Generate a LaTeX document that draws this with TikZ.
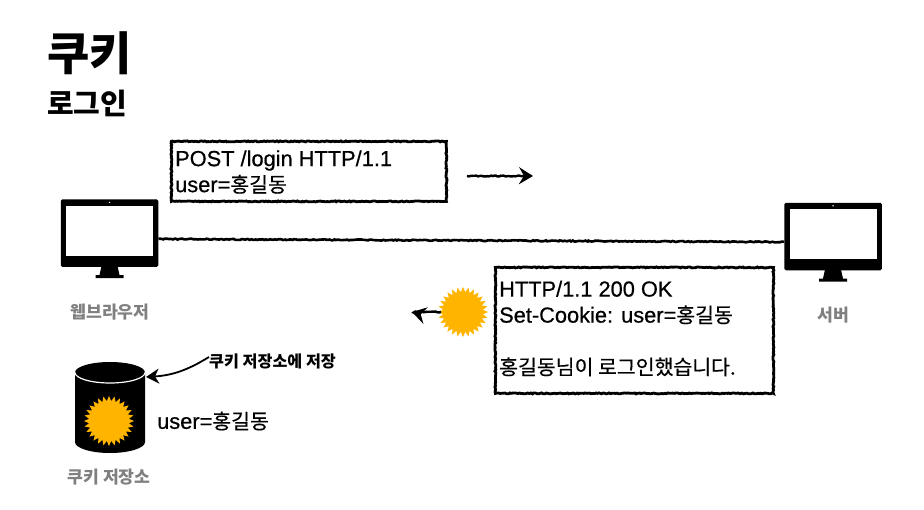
\documentclass[tikz,border=0pt]{standalone}
\usepackage{fontspec}
\setmainfont{Liberation Sans}[FakeBold=0.6]
\newfontfamily\kr{Noto Sans CJK KR}
\newfontfamily\krtext{Noto Sans CJK KR}[Scale=0.94,FakeBold=0.4]
\usetikzlibrary{positioning,arrows.meta,shapes.geometric,decorations.pathmorphing}
\definecolor{cookie}{HTML}{FFB500}
\definecolor{caption}{HTML}{808080}
\tikzset{
    rough/.style={decorate,decoration={random steps,segment length=1.6pt,amplitude=0.5pt}},
    message box/.style={draw,rough,line width=2.8pt,anchor=north west,inner sep=0pt},
    message/.style={align=left,anchor=west,font=\fontsize{21.8}{26}\selectfont,inner sep=0pt},
    sketch arrow/.style={rough,line width=2.4pt,-{Stealth[inset=5pt,length=14pt,width=17pt]}},
    cookie mark/.style={star,star points=28,star point ratio=1.25,fill=cookie,inner sep=0pt,minimum size=50pt},
    caption text/.style={text=caption,font=\kr\bfseries\fontsize{17.2}{20}\selectfont,inner sep=0pt},
    monitor/.pic={
        \node[fill=black,rounded corners=1.5pt,inner sep=0pt,minimum width=97.5pt,minimum height=67.5pt] (-body) at (0,0) {};
        \node[fill=white,inner sep=0pt,minimum width=87pt,minimum height=50pt] (-screen) at (0,-2.5) {};
        \fill[white] (0,-30.7) circle (0.8pt);
        \fill (-8,33) -- (8,33) -- (10,42) -- (14,42) -- (14,45) -- (-14,45) -- (-14,42) -- (-10,42) -- cycle;
    }
}
\begin{document}
\begin{tikzpicture}[x=1pt,y=-1pt]
    \useasboundingbox (0,0) rectangle (924,509);

    % titles
    \node[inner sep=0pt,anchor=west,font=\kr\bfseries\fontsize{46}{50}\selectfont] (title) at (47,53) {쿠키};
    \node[inner sep=0pt,anchor=west,font=\kr\bfseries\fontsize{29}{32}\selectfont] (subtitle) at (47,103) {로그인};

    % client and server
    \pic (browser) at (109.5,233) {monitor};
    \pic (server) at (833,236.5) {monitor};
    \node[caption text] (browser label) at (110,312) {웹브라우저};
    \node[caption text] (server label) at (833,315) {서버};
    \draw[rough,line width=2.6pt] ([yshift=-6pt]browser-body.east) -- ([yshift=-5.5pt]server-body.west);

    % request
    \node[message box,minimum width=275pt,minimum height=60pt] (request box) at (170,140) {};
    \node[message] (request) at (175,172) {POST /login HTTP/1.1\\user={\krtext 홍길동}};
    \coordinate (request start) at (467,176);
    \coordinate (request end) at (533,176);
    \draw[sketch arrow] (request start) -- (request end);

    % response
    \node[message box,minimum width=278pt,minimum height=126pt] (response box) at (494,266) {};
    \node[message] (response) at (499,328.5) {HTTP/1.1 200 OK\\Set-Cookie: user={\krtext 홍길동}\\[26pt]{\krtext 홍길동님이 로그인했습니다.}};
    \node[cookie mark] (sent cookie) at (463,312) {};
    \coordinate (response end) at (412,312);
    \draw[sketch arrow] (sent cookie.center) ++(-22,0) -- (response end);

    % cookie store
    \fill (75,372.5) arc[start angle=180,end angle=360,x radius=35,y radius=10.5]
        -- (145,442) arc[start angle=0,end angle=180,x radius=35,y radius=11] -- cycle;
    \draw[white,line width=1.2pt] (75,372.5) arc[start angle=180,end angle=0,x radius=35,y radius=10.5];
    \node[cookie mark] (stored cookie) at (109,421) {};
    \node[caption text] (store label) at (109,477) {쿠키 저장소};
    \node[inner sep=0pt,anchor=west,font=\fontsize{21.8}{24}\selectfont] (stored value) at (157,421) {user={\krtext 홍길동}};
    \node[inner sep=0pt,anchor=west,font=\kr\bfseries\fontsize{16.2}{18}\selectfont] (store note) at (209,361) {쿠키 저장소에 저장};
    \coordinate (store top) at (146,377);
    \draw[line width=1.8pt,-{Stealth[inset=4pt,length=13pt,width=15pt]}] ([yshift=4pt]store note.west) to[bend left=14] (store top);
\end{tikzpicture}
\end{document}
